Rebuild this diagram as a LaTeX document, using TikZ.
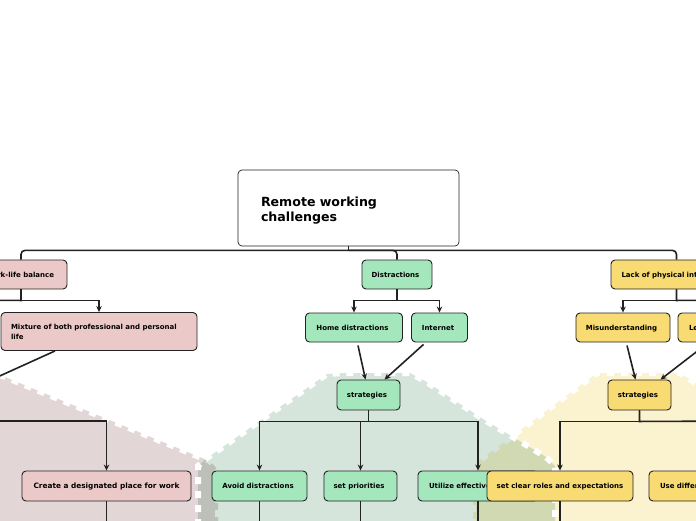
\documentclass[tikz,border=0pt]{standalone}
\usepackage{fontspec}
\setmainfont{DejaVu Sans}
\usetikzlibrary{arrows.meta,calc}
\definecolor{pinkbox}{HTML}{ECC9C9}
\definecolor{greenbox}{HTML}{A5E7BD}
\definecolor{yellowbox}{HTML}{F8DB72}
\definecolor{pinkbg}{HTML}{E3D6D6}
\definecolor{greenbg}{HTML}{D5E5DC}
\definecolor{yellowbg}{HTML}{FBF2D0}
\definecolor{ink}{HTML}{222222}
\tikzset{
  x=1pt,y=-1pt,
  box/.style={draw=ink,line width=0.9pt,rounded corners=4pt,inner sep=0pt,font=\fontsize{7}{10}\selectfont\bfseries,text=black,text height=7pt,text depth=1.3pt},
  nudged/.style={execute at end node={\hspace{3pt}}},
  pinkn/.style={box,fill=pinkbox},
  greenn/.style={box,fill=greenbox},
  yellown/.style={box,fill=yellowbox},
  bus/.style={draw=ink,line width=1.6pt,rounded corners=4pt},
  link/.style={draw=ink,line width=1.6pt,-{Stealth[length=6pt,width=5.5pt]}},
  plain/.style={draw=ink,line width=1.6pt},
  edgedash/.style={draw=white,line width=6pt,dash pattern=on 7pt off 7pt},
}
\begin{document}
\begin{tikzpicture}
\useasboundingbox (0,0) rectangle (696,520);
\clip (0,0) rectangle (696,520);
\fill[white] (0,0) rectangle (696,520);
% background blobs
\def\pinkblob{(-40,359) -- (0,375) -- (197,456) -- (210,461) -- (218,470) -- (218,540) -- (-40,540) -- cycle}
\def\yellowblob{(473,540) -- (473,470) -- (480,460) -- (597,373) -- (680,373) -- (760,425) -- (760,540) -- cycle}
\def\greenblob{(198,540) -- (198,466) -- (207,458) -- (327,374) -- (345,373) -- (410,373) -- (425,381) -- (483,419) -- (546,457) -- (555,466) -- (555,540) -- cycle}
\fill[pinkbg] \pinkblob;
\draw[edgedash] \pinkblob;
\fill[yellowbg] \yellowblob;
\draw[edgedash] \yellowblob;
\begin{scope}[blend mode=multiply]
\fill[greenbg] \greenblob;
\end{scope}
\draw[edgedash] \greenblob;
% root
\node[draw=ink,line width=0.7pt,rounded corners=4pt,fill=white,inner sep=0pt,minimum width=221pt,minimum height=76pt,text width=175pt,align=left,font=\fontsize{12.6}{15}\selectfont\bfseries,text=black] (root) at (348.5,208) {\rule{0pt}{14pt}Remote working\\challenges};
% first level
\node[pinkn,nudged,minimum width=92pt,minimum height=29pt] (wl) at (21,274.5) {Work-life balance};
\node[greenn,nudged,minimum width=70pt,minimum height=29pt] (dist) at (397,274.5) {Distractions};
\node[yellown,minimum width=131pt,minimum height=29pt,text width=110pt,align=left] (lack) at (676.5,274.5) {Lack of physical interaction};
% second level
\node[pinkn,minimum width=196pt,minimum height=38pt,text width=176pt,align=left,text height=,text depth=] (mix) at (99,331.5) {Mixture of both professional and personal\\life};
\node[greenn,nudged,minimum width=97pt,minimum height=29pt] (home) at (354,327.5) {Home distractions};
\node[greenn,nudged,minimum width=56pt,minimum height=29pt] (net) at (439.5,327.5) {Internet};
\node[yellown,nudged,minimum width=94pt,minimum height=29pt] (mis) at (623,327.5) {Misunderstanding};
\node[yellown,minimum width=56pt,minimum height=29pt,text width=34pt,align=left] (le) at (706,327.5) {Le};
% strategies
\node[greenn,nudged,minimum width=63pt,minimum height=30pt] (gstrat) at (368.5,395) {strategies};
\node[yellown,nudged,minimum width=63pt,minimum height=30pt] (ystrat) at (639.5,395) {strategies};
% third level
\node[pinkn,minimum width=169pt,minimum height=30pt,font=\fontsize{7.35}{10}\selectfont\bfseries] (create) at (106.5,486) {Create a designated place for work};
\node[greenn,nudged,minimum width=95pt,minimum height=30pt] (avoid) at (259.5,486) {Avoid distractions};
\node[greenn,nudged,minimum width=73pt,minimum height=30pt] (prio) at (360.5,486) {set priorities};
\node[greenn,minimum width=120pt,minimum height=30pt,text width=98pt,align=left] (util) at (478,486) {Utilize effective};
\node[yellown,minimum width=146pt,minimum height=30pt] (clear) at (560,486) {set clear roles and expectations};
\node[yellown,minimum width=130pt,minimum height=30pt,text width=108pt,align=left] (diff) at (714,486) {Use different};
% free ends
\coordinate (hub) at ($(root.south)+(0,4)$);
\coordinate (wlleft) at (-60,300);
\coordinate (pinkstrat) at (-60,403);
\coordinate (pinkhub) at (-60,421);
\coordinate (yhub) at (760,421);
\coordinate (lackright) at (760,300);
\coordinate (bot1) at (106.5,540);
\coordinate (bot2) at (259.5,540);
\coordinate (bot3) at (360.5,540);
\coordinate (bot4) at (478,540);
\coordinate (bot5) at (560,540);
% root bus
\draw[plain] (root.south) -- (hub);
\draw[bus] (wl.north) |- (hub) -| (lack.north);
\draw[bus] (hub) -| (dist.north);
% work-life branch
\draw[plain] (wl.south) -- ++(0,11) -- (wlleft);
\draw[link] (wl.south) -- ++(0,11) -| (mix.north);
\draw[plain] ($(mix.south)+(-44,0)$) -- (pinkstrat);
\draw[link] (pinkhub) -| (create.north);
% distraction branch
\draw[link] (dist.south) -- ++(0,11) -| (home.north);
\draw[link] (dist.south) -- ++(0,11) -| (net.north);
\draw[link] ($(home.south)+(4,3)$) -- ($(gstrat.north)+(-3,0)$);
\draw[link] ($(net.south)+(-16,2)$) -- ($(gstrat.north)+(16,0)$);
\draw[link] (gstrat.south) -- ++(0,11) -| (avoid.north);
\draw[link] (gstrat.south) -- ++(0,11) -| (prio.north);
\draw[link] (gstrat.south) -- ++(0,11) -| (util.north);
% interaction branch
\draw[link] (lack.south) -- ++(0,11) -| (mis.north);
\draw[plain] (lack.south) -- ++(0,11) -- (lackright);
\draw[link] ($(mis.south)+(4,3)$) -- ($(ystrat.north)+(-4,0)$);
\draw[link] ($(le.south)+(0,2)$) -- ($(ystrat.north)+(21,0)$);
\draw[link] (ystrat.south) -- ++(0,11) -| (clear.north);
\draw[plain] (ystrat.south) -- ++(0,11) -- (yhub);
% downward stubs
\draw[plain] (create.south) -- (bot1);
\draw[plain] (avoid.south) -- (bot2);
\draw[plain] (prio.south) -- (bot3);
\draw[plain] (util.south) -- (bot4);
\draw[plain] (clear.south) -- (bot5);
\end{tikzpicture}
\end{document}
